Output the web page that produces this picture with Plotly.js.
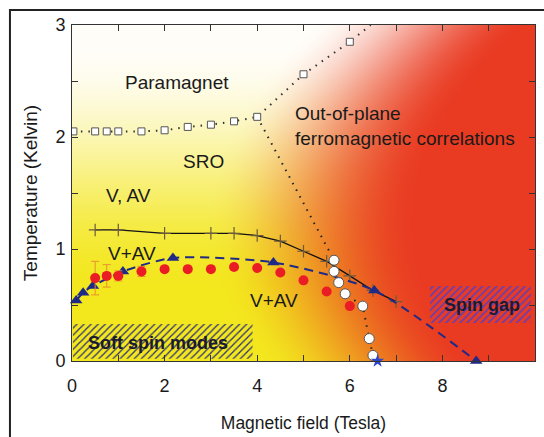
<!DOCTYPE html>
<html>
<head>
<meta charset="utf-8">
<script src="https://cdn.plot.ly/plotly-3.0.1.min.js"></script>
<style>html,body{margin:0;padding:0;background:#fff;}#chart{width:544px;height:437px;}</style>
</head>
<body>
<div id="chart"></div>
<script>
// ---- data ----
var sqField   = [0.03, 0.5, 0.75, 1.0, 1.5, 2.0, 2.5, 3.0, 3.5, 4.0, 5.0, 6.0];
var sqTemp    = [2.05, 2.05, 2.05, 2.05, 2.05, 2.06, 2.09, 2.11, 2.14, 2.18, 2.56, 2.85];
var sqGuideField = [0.03, 0.5, 0.75, 1.0, 1.5, 2.0, 2.5, 3.0, 3.5, 4.0, 5.0, 6.0, 6.45];
var sqGuideTemp  = [2.05, 2.05, 2.05, 2.05, 2.05, 2.06, 2.09, 2.11, 2.14, 2.18, 2.56, 2.85, 3.0];

var dropField = [4.0, 5.66, 5.66, 5.76, 5.9, 6.28, 6.42, 6.5];
var dropTemp  = [2.18, 0.90, 0.80, 0.70, 0.60, 0.49, 0.20, 0.05];

var circField = [5.66, 5.66, 5.76, 5.9, 6.28, 6.42, 6.5];
var circTemp  = [0.90, 0.80, 0.70, 0.60, 0.49, 0.20, 0.05];

var starField = [6.6];
var starTemp  = [0.0];

var crossField = [0.5, 1.0, 2.0, 3.0, 3.5, 4.0, 4.5, 5.0, 5.5, 6.0, 6.5, 7.0];
var crossTemp  = [1.17, 1.17, 1.14, 1.14, 1.14, 1.12, 1.07, 0.98, 0.89, 0.76, 0.63, 0.53];

var triField = [0.09, 0.24, 0.45, 1.1, 2.18, 4.35, 6.53, 8.73];
var triTemp  = [0.54, 0.61, 0.67, 0.80, 0.92, 0.88, 0.63, 0.0];

var redField = [0.5, 0.75, 1.0, 1.5, 2.0, 2.5, 3.0, 3.5, 4.0, 4.5, 5.0, 5.5, 6.0];
var redTemp  = [0.74, 0.76, 0.76, 0.80, 0.82, 0.82, 0.82, 0.84, 0.83, 0.79, 0.72, 0.62, 0.49];
var redErr   = [0.15, 0.10, 0.045, 0.045, 0, 0, 0, 0, 0, 0, 0, 0, 0];

var softField = [0.02, 3.9, 3.9, 0.02, 0.02];
var softTemp  = [0.02, 0.02, 0.33, 0.33, 0.02];
var gapField  = [7.73, 9.91, 9.91, 7.73, 7.73];
var gapTemp   = [0.34, 0.34, 0.67, 0.67, 0.34];

var xTickVals = [0, 1, 2, 3, 4, 5, 6, 7, 8, 9, 10];
var xTickText = ['0', '', '2', '', '4', '', '6', '', '8', '', '10'];
var yTickVals = [0, 0.5, 1, 1.5, 2, 2.5, 3];
var yTickText = ['0', '', '1', '', '2', '', '3'];

var labels = [
  {text: 'Paramagnet', x: 2.27, y: 2.49},
  {text: 'SRO', x: 2.83, y: 1.78},
  {text: 'V, AV', x: 1.21, y: 1.48},
  {text: 'V+AV', x: 1.29, y: 0.96},
  {text: 'V+AV', x: 4.36, y: 0.54}
];

// ---- background gradient (style only) ----
function makeBackground() {
  var w = 463, h = 336;
  var c = document.createElement('canvas');
  c.width = w; c.height = h;
  var g = c.getContext('2d');
  var img = g.createImageData(w, h);
  var yellow = [243, 231, 30], white = [255, 253, 248], red = [233, 58, 34];
  function ss(a, b, t) { t = Math.min(1, Math.max(0, (t - a) / (b - a))); return t * t * (3 - 2 * t); }
  for (var j = 0; j < h; j++) {
    var v = 1 - j / (h - 1);
    var wl = ss(0.2, 0.95, v);
    var u0 = 0.6 - 0.551 * v + 0.671 * v * v;
    for (var i = 0; i < w; i++) {
      var u = i / (w - 1);
      var a = ss(-0.2, 0.27, u - u0);
      var k = (j * w + i) * 4;
      for (var ch = 0; ch < 3; ch++) {
        var base = yellow[ch] + (white[ch] - yellow[ch]) * wl;
        img.data[k + ch] = Math.round(base + (red[ch] - base) * a);
      }
      img.data[k + 3] = 255;
    }
  }
  g.putImageData(img, 0, 0);
  return c.toDataURL('image/png');
}

var FONT = 'Liberation Sans, Arial, Helvetica, sans-serif';
var traces = [
  {x: softField, y: softTemp, mode: 'lines', fill: 'toself', fillcolor: 'rgba(0,0,0,0)',
   line: {width: 0, color: 'rgba(0,0,0,0)'},
   fillpattern: {shape: '/', fgcolor: '#2d2f78', bgcolor: 'rgba(0,0,0,0)', size: 5, solidity: 0.25},
   hoverinfo: 'skip', showlegend: false},
  {x: gapField, y: gapTemp, mode: 'lines', fill: 'toself', fillcolor: 'rgba(0,0,0,0)',
   line: {width: 0, color: 'rgba(0,0,0,0)'},
   fillpattern: {shape: '/', fgcolor: '#5b3fc0', bgcolor: 'rgba(0,0,0,0)', size: 5, solidity: 0.3},
   hoverinfo: 'skip', showlegend: false},
  {x: sqGuideField, y: sqGuideTemp, mode: 'lines', line: {color: '#333', width: 2, dash: '1.5px,6px'}, showlegend: false},
  {x: dropField, y: dropTemp, mode: 'lines', line: {color: '#222', width: 2, dash: '1.5px,6px'}, showlegend: false},
  {x: sqField, y: sqTemp, mode: 'markers', marker: {symbol: 'square', size: 7, color: '#ffffff', line: {color: '#555', width: 1}}, showlegend: false},
  {x: crossField, y: crossTemp, mode: 'lines+markers', line: {color: '#111', width: 1.3},
   marker: {symbol: 'cross-thin-open', size: 9, color: '#6b5a3e', line: {color: '#6b5a3e', width: 1.2}}, showlegend: false},
  {x: triField, y: triTemp, mode: 'lines+markers', line: {color: '#1f2a86', width: 2, dash: '9px,6px', shape: 'spline', smoothing: 0.7},
   marker: {symbol: 'triangle-up', size: 11, color: '#1f2a86'}, cliponaxis: false, showlegend: false},
  {x: redField, y: redTemp, mode: 'markers',
   error_y: {type: 'data', array: redErr, color: '#e8902e', thickness: 1, width: 4},
   marker: {symbol: 'circle', size: 10, color: '#ea1d24'}, showlegend: false},
  {x: circField, y: circTemp, mode: 'markers', marker: {symbol: 'circle', size: 10, color: '#ffffff', line: {color: '#555', width: 1}}, cliponaxis: false, showlegend: false},
  {x: starField, y: starTemp, mode: 'markers', marker: {symbol: 'star', size: 10, color: '#2f45c8'}, cliponaxis: false, showlegend: false}
];

var annotations = labels.map(function (l) {
  return {x: l.x, y: l.y, xref: 'x', yref: 'y', text: l.text, showarrow: false,
          font: {family: FONT, size: 19, color: '#1a1a1a'}};
});
annotations.push({x: 4.77, y: 2.1, xref: 'x', yref: 'y', xanchor: 'left', align: 'left', showarrow: false,
  text: 'Out-of-plane<br>ferromagnetic correlations', font: {family: FONT, size: 19, color: '#1a1a1a'}});
annotations.push({x: 1.86, y: 0.16, xref: 'x', yref: 'y', showarrow: false,
  text: '<b>Soft spin modes</b>', font: {family: FONT, size: 18, color: '#1a1a30'}});
annotations.push({x: 8.85, y: 0.5, xref: 'x', yref: 'y', showarrow: false,
  text: '<b>Spin gap</b>', font: {family: FONT, size: 18, color: '#1a1a30'}});

var layout = {
  width: 544, height: 437,
  margin: {l: 72, r: 9, t: 25, b: 76},
  paper_bgcolor: '#ffffff', plot_bgcolor: 'rgba(0,0,0,0)',
  font: {family: FONT, size: 18, color: '#1a1a1a'},
  xaxis: {range: [0, 10], tickvals: xTickVals, ticktext: xTickText, ticks: 'inside', ticklen: 6,
    tickcolor: '#333', showline: true, linecolor: '#333', linewidth: 1, mirror: 'ticks',
    showgrid: false, zeroline: false, tickfont: {size: 18}, ticklabelstandoff: 8,
    title: {text: 'Magnetic field (Tesla)', font: {size: 17.5}, standoff: 22}},
  yaxis: {range: [0, 3], tickvals: yTickVals, ticktext: yTickText, ticks: 'inside', ticklen: 6,
    tickcolor: '#333', showline: true, linecolor: '#333', linewidth: 1, mirror: 'ticks',
    showgrid: false, zeroline: false, tickfont: {size: 18}, ticklabelstandoff: 2,
    title: {text: 'Temperature (Kelvin)', font: {size: 19}, standoff: 12}},
  images: [{source: makeBackground(), xref: 'x', yref: 'y', x: 0, y: 3, sizex: 10, sizey: 3,
    sizing: 'stretch', layer: 'below'}],
  shapes: [{type: 'rect', xref: 'paper', yref: 'paper', x0: -0.134, x1: 1.3, y0: -0.6, y1: 1.045,
    line: {color: '#222', width: 2}, fillcolor: 'rgba(0,0,0,0)'}],
  annotations: annotations,
  showlegend: false
};

Plotly.newPlot('chart', traces, layout, {displayModeBar: false, staticPlot: true});
</script>
</body>
</html>
